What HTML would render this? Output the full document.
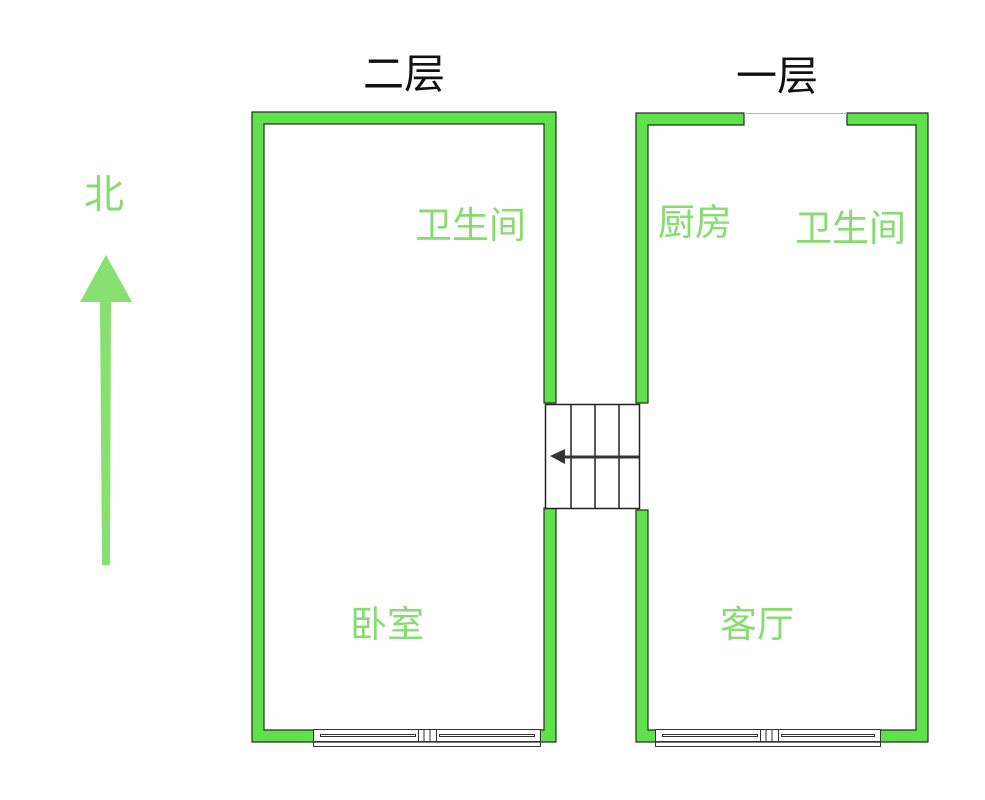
<!DOCTYPE html><html><head><meta charset="utf-8"><style>
body{margin:0;width:985px;height:800px;background:#fff;position:relative;overflow:hidden;font-family:"Liberation Sans","Noto Sans CJK SC",sans-serif}
.t{position:absolute;color:#86dc70;font-size:37px;line-height:1;white-space:nowrap}
.h{position:absolute;color:#111;font-size:41px;line-height:1}
</style></head><body>
<div class="h" style="left:363px;top:54px">二层</div>
<div class="h" style="left:736px;top:56px">一层</div>
<svg style="position:absolute;left:0;top:0" width="985" height="800">
<g fill="#5ee24a" stroke="#2a2a2a" stroke-width="1.2" stroke-linejoin="miter">
<polygon points="556,403 556,112 252,112 252,742 556,742 556,508 544,508 544,730 264,730 264,124 544,124 544,403"/>
<polygon points="744,113 636,113 636,403 648,403 648,125 744,125"/>
<polygon points="847,113 928,113 928,742 636,742 636,510 648,510 648,730 916,730 916,125 847,125"/>
</g>
<line x1="744" y1="113.5" x2="847" y2="113.5" stroke="#c9b58a" stroke-width="1"/>
<!-- windows -->
<g fill="#fff" stroke="#333" stroke-width="1">
<rect x="313.5" y="729.5" width="227" height="12"/>
<rect x="418.5" y="729.5" width="18" height="12"/>
<line x1="424" y1="730" x2="424" y2="741"/><line x1="430" y1="730" x2="430" y2="741"/>
<rect x="320.5" y="734.5" width="95" height="2"/><rect x="439.5" y="734.5" width="95" height="2"/>
<polyline points="313.5,741.5 313.5,746.5 540.5,746.5 540.5,741.5" fill="none"/>
<rect x="655.5" y="729.5" width="225" height="12"/>
<rect x="760.5" y="729.5" width="18" height="12"/>
<line x1="766" y1="730" x2="766" y2="741"/><line x1="772" y1="730" x2="772" y2="741"/>
<rect x="662.5" y="734.5" width="95" height="2"/><rect x="781.5" y="734.5" width="93" height="2"/>
<polyline points="655.5,741.5 655.5,746.5 880.5,746.5 880.5,741.5" fill="none"/>
</g>
<rect x="545.5" y="404.5" width="94" height="104" fill="#fff" stroke="#222" stroke-width="1.5"/>
<line x1="571" y1="404" x2="571" y2="508" stroke="#222" stroke-width="1.5"/>
<line x1="595" y1="404" x2="595" y2="508" stroke="#222" stroke-width="1.5"/>
<line x1="619" y1="404" x2="619" y2="508" stroke="#222" stroke-width="1.5"/>
<line x1="565" y1="457" x2="639" y2="457" stroke="#333" stroke-width="3"/>
<polygon points="550,456 565,449 565,464" fill="#333"/>
<polygon points="106,255 80,302 100,302 102,565 110,565 111,302 132,302" fill="#88e070"/>
</svg>
<div class="t" style="left:84px;top:175px;font-size:40px">北</div>
<div class="t" style="left:415px;top:207px">卫生间</div>
<div class="t" style="left:658px;top:204px">厨房</div>
<div class="t" style="left:795px;top:210px">卫生间</div>
<div class="t" style="left:350px;top:606px">卧室</div>
<div class="t" style="left:720px;top:606px">客厅</div>
</body></html>
